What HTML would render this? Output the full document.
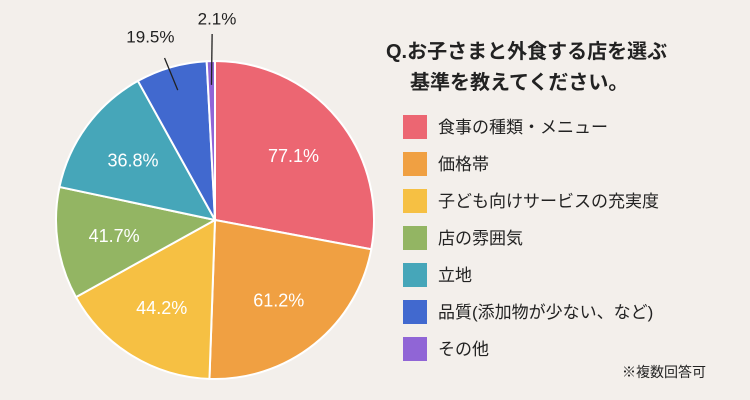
<!DOCTYPE html>
<html><head><meta charset="utf-8"><style>
body{margin:0;background:#f3efeb;}
svg{display:block;font-family:"Liberation Sans","Noto Sans CJK JP",sans-serif;}
</style></head><body>
<svg width="750" height="400" viewBox="0 0 750 400">
<rect width="750" height="400" fill="#f3efeb"/>
<g id="pie"></g>
<g font-size="20" fill="#222" font-weight="bold">
<text x="386" y="58">Q.お子さまと外食する店を選ぶ</text>
<text x="410" y="89">基準を教えてください。</text>
</g>
<g id="legend"></g>
<text x="622" y="377" font-size="14" fill="#222">※複数回答可</text>
</svg>
<script>
const categories=["食事の種類・メニュー","価格帯","子ども向けサービスの充実度","店の雰囲気","立地","品質(添加物が少ない、など)","その他"];
const values=[77.1,61.2,44.2,41.7,36.8,19.5,2.1];
const sliceWeights=[100.6,81.4,59,41,49,26,3];
const colors=["#ec6672","#f0a042","#f6c043","#93b563","#46a6b9","#4169cf","#9065d6"];
const NS="http://www.w3.org/2000/svg";
const cx=215,cy=220,R=159;
const total=sliceWeights.reduce((a,b)=>a+b,0);
const pie=document.getElementById('pie');
function pt(a,r){return [cx+r*Math.sin(a),cy-r*Math.cos(a)];}
let a0=0;
values.forEach((v,i)=>{
  const a1=a0+sliceWeights[i]/total*2*Math.PI;
  const p0=pt(a0,R),p1=pt(a1,R);
  const large=(a1-a0)>Math.PI?1:0;
  const path=document.createElementNS(NS,'path');
  path.setAttribute('d',`M${cx},${cy}L${p0[0]},${p0[1]}A${R},${R} 0 ${large} 1 ${p1[0]},${p1[1]}Z`);
  path.setAttribute('fill',colors[i]);
  path.setAttribute('stroke','#fff');
  path.setAttribute('stroke-width','2');
  
  
  pie.appendChild(path);
  const am=(a0+a1)/2;
  const t=document.createElementNS(NS,'text');
  
  
  t.setAttribute('text-anchor','middle');
  t.textContent=v.toFixed(1)+'%';
  if(sliceWeights[i]>30){
    const p=pt(am,102);
    t.setAttribute('x',p[0]);t.setAttribute('y',p[1]+7);
    t.setAttribute('fill','#fff');
    t.setAttribute('font-size','18');
  }else{
    const small=sliceWeights[i]<10;
    const pa=pt(am,R*0.85),pb=pt(am,R*(small?1.17:1.06));
    const ln=document.createElementNS(NS,'line');
    ln.setAttribute('x1',pa[0]);ln.setAttribute('y1',pa[1]);
    ln.setAttribute('x2',pb[0]+(small?2:-4));ln.setAttribute('y2',pb[1]);
    ln.setAttribute('stroke','#222');ln.setAttribute('stroke-width','1.3');
    
    
    pie.appendChild(ln);
    const pc=pt(am,R*1.2);
    t.setAttribute('x',pc[0]+(small?7:-12));t.setAttribute('y',pc[1]+(small?-5:6));
    t.setAttribute('fill','#222');
    t.setAttribute('font-size','17');
  }
  pie.appendChild(t);
  a0=a1;
});
const lg=document.getElementById('legend');
categories.forEach((c,i)=>{
  const y=127+i*37;
  const r=document.createElementNS(NS,'rect');
  r.setAttribute('x',403);r.setAttribute('y',y-12);r.setAttribute('width',24);r.setAttribute('height',24);
  r.setAttribute('fill',colors[i]);
  
  
  lg.appendChild(r);
  const t=document.createElementNS(NS,'text');
  t.setAttribute('x',438);t.setAttribute('y',y+6);t.setAttribute('font-size','17');t.setAttribute('fill','#222');
  t.textContent=c;
  
  
  lg.appendChild(t);
});
</script>
</body></html>
